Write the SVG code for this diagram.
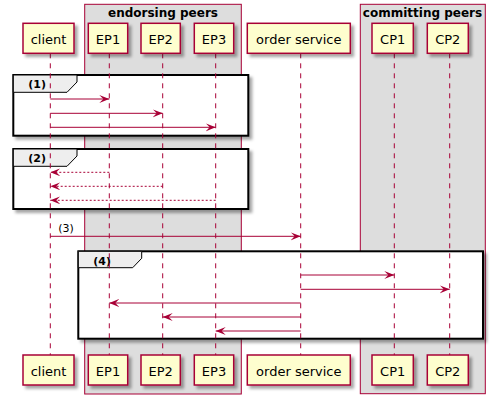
<svg xmlns="http://www.w3.org/2000/svg" width="495" height="404" viewBox="0 0 495 404">
<defs>
<filter id="sh" x="-20%" y="-20%" width="150%" height="150%">
<feGaussianBlur in="SourceAlpha" stdDeviation="1.5"/>
<feOffset dx="3" dy="3" result="b"/>
<feFlood flood-color="#000" flood-opacity="0.35"/>
<feComposite in2="b" operator="in"/>
<feMerge><feMergeNode/><feMergeNode in="SourceGraphic"/></feMerge>
</filter>
<marker id="ah" markerWidth="12" markerHeight="10" refX="10" refY="4" orient="auto" markerUnits="userSpaceOnUse">
<polygon points="0,0 10,4 0,8 4,4" fill="#A80036"/>
</marker>
</defs>
<style>
.box{fill:#DDDDDD;stroke:#A80036;stroke-width:1}
.bt{font-family:"DejaVu Sans",sans-serif;font-size:12px;font-weight:bold;fill:#000;text-anchor:middle}
.p{fill:#FEFECE;stroke:#A80036;stroke-width:1.5;filter:url(#sh)}
.pt{font-family:"DejaVu Sans",sans-serif;font-size:13px;fill:#000;text-anchor:middle}
.ll{stroke:#A80036;stroke-width:1;stroke-dasharray:5,5;fill:none}
.g{fill:#FFFFFF;stroke:#000;stroke-width:2;filter:url(#sh)}
.tab{fill:#EEEEEE;stroke:#000;stroke-width:1}
.gt{font-family:"DejaVu Sans",sans-serif;font-size:11px;font-weight:bold;fill:#000}
.ml{font-family:"DejaVu Sans",sans-serif;font-size:11px;fill:#000}
.m{stroke:#A80036;stroke-width:1;fill:none;marker-end:url(#ah)}
.r{stroke:#A80036;stroke-width:1;fill:none;stroke-dasharray:2,2;marker-end:url(#ah)}
</style>
<g id="box-endorsing">
<rect class="box" x="84.7" y="4.3" width="156.6" height="389.7"/>
<text class="bt" x="163" y="16.7">endorsing peers</text>
</g>
<g id="box-committing">
<rect class="box" x="360.3" y="4.3" width="125" height="389.4"/>
<text class="bt" x="422.5" y="16.7">committing peers</text>
</g>
<g id="group1">
<rect class="g" x="13.3" y="75" width="235" height="60.7"/>
<path class="tab" d="M13.3,75 H77 V82 L67,92.3 H13.3 Z"/>
<text class="gt" x="28.3" y="88">(1)</text>
</g>
<g id="group2">
<rect class="g" x="13.3" y="149" width="235" height="60"/>
<path class="tab" d="M13.3,149 H77 V156 L67,166.3 H13.3 Z"/>
<text class="gt" x="28.3" y="162">(2)</text>
</g>
<g id="group4">
<rect class="g" x="78.3" y="251.3" width="404.7" height="87.4"/>
<path class="tab" d="M78.3,251.3 H141.7 V258.3 L132.7,267.7 H78.3 Z"/>
<text class="gt" x="93.3" y="264.7">(4)</text>
</g>
<g id="lifelines">
<line class="ll" x1="50.3" y1="53.3" x2="50.3" y2="355"/>
<line class="ll" x1="109.3" y1="53.3" x2="109.3" y2="355"/>
<line class="ll" x1="162.7" y1="53.3" x2="162.7" y2="355"/>
<line class="ll" x1="215.7" y1="53.3" x2="215.7" y2="355"/>
<line class="ll" x1="300.7" y1="53.3" x2="300.7" y2="355"/>
<line class="ll" x1="394.3" y1="53.3" x2="394.3" y2="355"/>
<line class="ll" x1="449.7" y1="53.3" x2="449.7" y2="355"/>
</g>
<g id="client">
<rect class="p" x="23" y="23.3" width="51" height="30"/><text class="pt" x="48.5" y="44">client</text>
<rect class="p" x="23" y="355" width="51" height="30"/><text class="pt" x="48.5" y="375.7">client</text>
</g>
<g id="EP1">
<rect class="p" x="88.3" y="23.3" width="39.4" height="30"/><text class="pt" x="108" y="44">EP1</text>
<rect class="p" x="88.3" y="355" width="39.4" height="30"/><text class="pt" x="108" y="375.7">EP1</text>
</g>
<g id="EP2">
<rect class="p" x="141" y="23.3" width="39.3" height="30"/><text class="pt" x="160.7" y="44">EP2</text>
<rect class="p" x="141" y="355" width="39.3" height="30"/><text class="pt" x="160.7" y="375.7">EP2</text>
</g>
<g id="EP3">
<rect class="p" x="194.3" y="23.3" width="39.4" height="30"/><text class="pt" x="214" y="44">EP3</text>
<rect class="p" x="194.3" y="355" width="39.4" height="30"/><text class="pt" x="214" y="375.7">EP3</text>
</g>
<g id="order-service">
<rect class="p" x="247.3" y="23.3" width="103" height="30"/><text class="pt" x="298.8" y="44">order service</text>
<rect class="p" x="247.3" y="355" width="103" height="30"/><text class="pt" x="298.8" y="375.7">order service</text>
</g>
<g id="CP1">
<rect class="p" x="372" y="23.3" width="41.3" height="30"/><text class="pt" x="392.7" y="44">CP1</text>
<rect class="p" x="372" y="355" width="41.3" height="30"/><text class="pt" x="392.7" y="375.7">CP1</text>
</g>
<g id="CP2">
<rect class="p" x="427.3" y="23.3" width="41" height="30"/><text class="pt" x="447.8" y="44">CP2</text>
<rect class="p" x="427.3" y="355" width="41" height="30"/><text class="pt" x="447.8" y="375.7">CP2</text>
</g>
<g id="connectors">
<line class="m" x1="50.3" y1="99" x2="109.3" y2="99"/>
<line class="m" x1="50.3" y1="113.3" x2="162.7" y2="113.3"/>
<line class="m" x1="50.3" y1="127.3" x2="215.7" y2="127.3"/>
<line class="r" x1="109.3" y1="172.3" x2="50.3" y2="172.3"/>
<line class="r" x1="162.7" y1="186.3" x2="50.3" y2="186.3"/>
<line class="r" x1="215.7" y1="200.3" x2="50.3" y2="200.3"/>
<line class="m" x1="50.3" y1="236.3" x2="300.7" y2="236.3"/>
<text class="ml" x="58.3" y="231.7">(3)</text>
<line class="m" x1="300.7" y1="275" x2="394.3" y2="275"/>
<line class="m" x1="300.7" y1="289.3" x2="449.7" y2="289.3"/>
<line class="m" x1="300.7" y1="303" x2="109.3" y2="303"/>
<line class="m" x1="300.7" y1="317" x2="162.7" y2="317"/>
<line class="m" x1="300.7" y1="331" x2="215.7" y2="331"/>
</g>
</svg>
